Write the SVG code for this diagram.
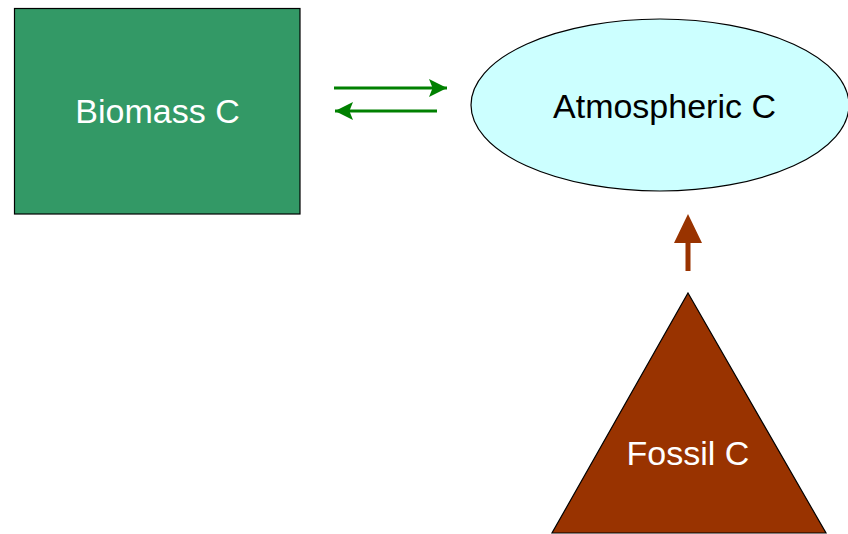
<svg xmlns="http://www.w3.org/2000/svg" width="848" height="534" viewBox="0 0 848 534">
<style>
.lbl{font-family:"Liberation Sans",Arial,sans-serif;font-size:34px;text-anchor:middle}
.edge{stroke:#000;stroke-width:1.2}
</style>
<defs>
<marker id="ag" markerWidth="6" markerHeight="6" refX="6" refY="3" orient="auto" markerUnits="strokeWidth">
<path d="M0,0 L6,3 L0,6 L1.2,3 Z" fill="#008000"/>
</marker>
</defs>
<rect width="848" height="534" fill="#fff"/>
<g id="biomass">
<rect x="14.5" y="8.5" width="285.5" height="205.5" fill="#339966" class="edge"/>
<text x="157.5" y="123" class="lbl" fill="#fff">Biomass C</text>
</g>
<g id="atmospheric">
<ellipse cx="660" cy="105" rx="189" ry="86" fill="#ccffff" class="edge"/>
<text x="664.5" y="118" class="lbl" fill="#000">Atmospheric C</text>
</g>
<g id="fossil">
<polygon points="688,293 826,533 552,533" fill="#993300" class="edge"/>
<text x="688" y="465" class="lbl" fill="#fff">Fossil C</text>
</g>
<g id="connectors">
<line x1="334" y1="88" x2="447" y2="88" stroke="#008000" stroke-width="3" marker-end="url(#ag)"/>
<line x1="437" y1="111" x2="335" y2="111" stroke="#008000" stroke-width="3" marker-end="url(#ag)"/>
<path d="M685.5,271 L685.5,243 L674,243 L688,214 L702,243 L690.5,243 L690.5,271 Z" fill="#993300"/>
</g>
</svg>
